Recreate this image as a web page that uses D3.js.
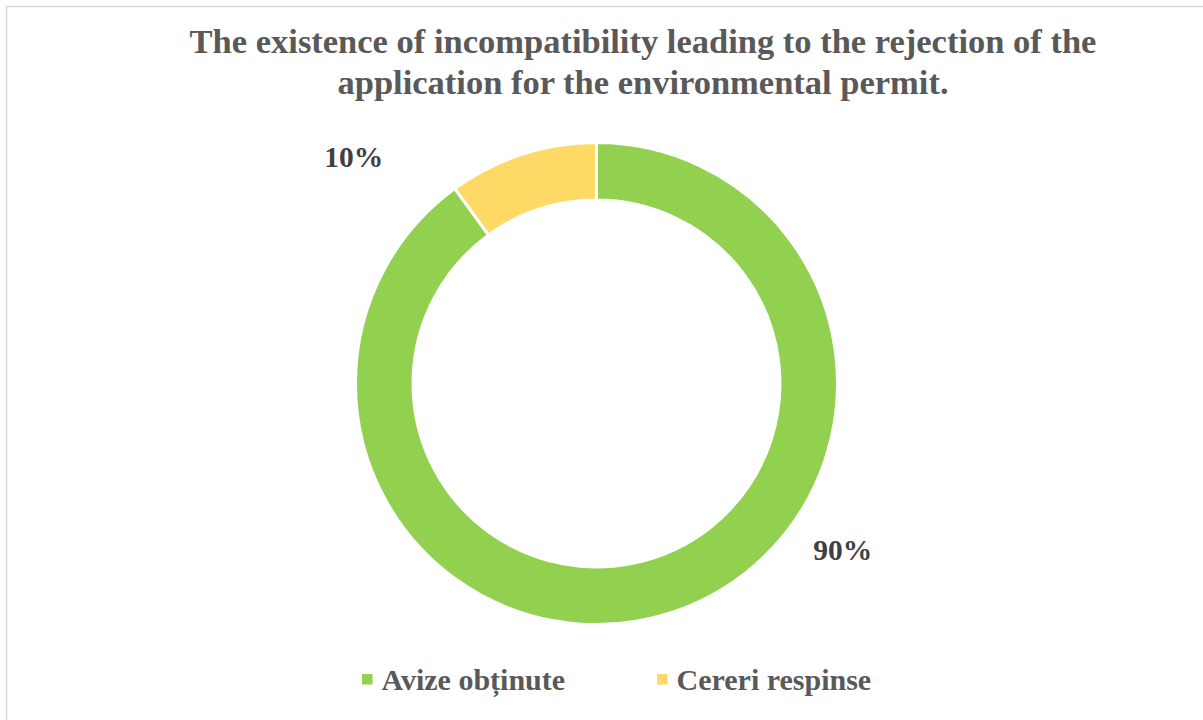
<!DOCTYPE html>
<html>
<head>
<meta charset="utf-8">
<script src="https://cdn.jsdelivr.net/npm/d3@7"></script>
<style>
  html, body { margin: 0; padding: 0; background: #fff; }
  svg { display: block; }
</style>
</head>
<body>
<svg id="chart" width="1203" height="720"></svg>
<script>
// Data
const categories = ["Avize obținute", "Cereri respinse"];
const values = [90, 10];
const colors = ["#92D050", "#FFD966"];
const titleLines = [
  "The existence of incompatibility leading to the rejection of the",
  "application for the environmental permit."
];

const svg = d3.select("#chart");
const W = 1203, H = 720;
const font = "'Liberation Serif', 'Times New Roman', serif";

// Chart area frame
svg.append("rect")
  .attr("x", 6.5).attr("y", 6.5)
  .attr("width", W + 20).attr("height", H + 20)
  .attr("fill", "#fff")
  .attr("stroke", "#d9d9d9")
  .attr("stroke-width", 1.5);

// Title
svg.append("g").selectAll("text")
  .data(titleLines)
  .join("text")
  .attr("x", 643)
  .attr("y", (d, i) => 52.5 + i * 41)
  .attr("text-anchor", "middle")
  .attr("font-family", font)
  .attr("font-weight", "bold")
  .attr("font-size", 34.5)
  .attr("fill", "#595959")
  .text(d => d);

// Donut
const cx = 596.5, cy = 383.5, rOuter = 241, rInner = 183.5;
const pie = d3.pie().sort(null).value(d => d.value);
const arcs = pie(categories.map((c, i) => ({ name: c, value: values[i], color: colors[i] })));
const arc = d3.arc().innerRadius(rInner).outerRadius(rOuter);

const g = svg.append("g").attr("transform", `translate(${cx},${cy})`);
g.selectAll("path")
  .data(arcs)
  .join("path")
  .attr("d", arc)
  .attr("fill", d => d.data.color)
  .attr("stroke", "#fff")
  .attr("stroke-width", 3);

// Data labels placed outside the ring
const total = d3.sum(values);
const labelPlacement = [{ angle: 124, radius: 297 }, { angle: -47, radius: 332 }];
g.selectAll("text.pct")
  .data(arcs)
  .join("text")
  .attr("class", "pct")
  .attr("x", (d, i) => labelPlacement[i].radius * Math.sin(labelPlacement[i].angle * Math.PI / 180))
  .attr("y", (d, i) => -labelPlacement[i].radius * Math.cos(labelPlacement[i].angle * Math.PI / 180))
  .attr("dy", "0.35em")
  .attr("text-anchor", "middle")
  .attr("font-family", font)
  .attr("font-weight", "bold")
  .attr("font-size", 29.5)
  .attr("fill", "#404040")
  .text(d => Math.round(d.data.value / total * 100) + "%");

// Legend
const legendX = [362, 657];
const legend = svg.append("g").selectAll("g")
  .data(categories)
  .join("g")
  .attr("transform", (d, i) => `translate(${legendX[i]},674)`);
legend.append("rect")
  .attr("width", 10.5).attr("height", 10.5)
  .attr("fill", (d, i) => colors[i]);
legend.append("text")
  .attr("x", 19.5).attr("y", 16)
  .attr("font-family", font)
  .attr("font-weight", "bold")
  .attr("font-size", 30)
  .attr("fill", "#595959")
  .text(d => d);
</script>
</body>
</html>
